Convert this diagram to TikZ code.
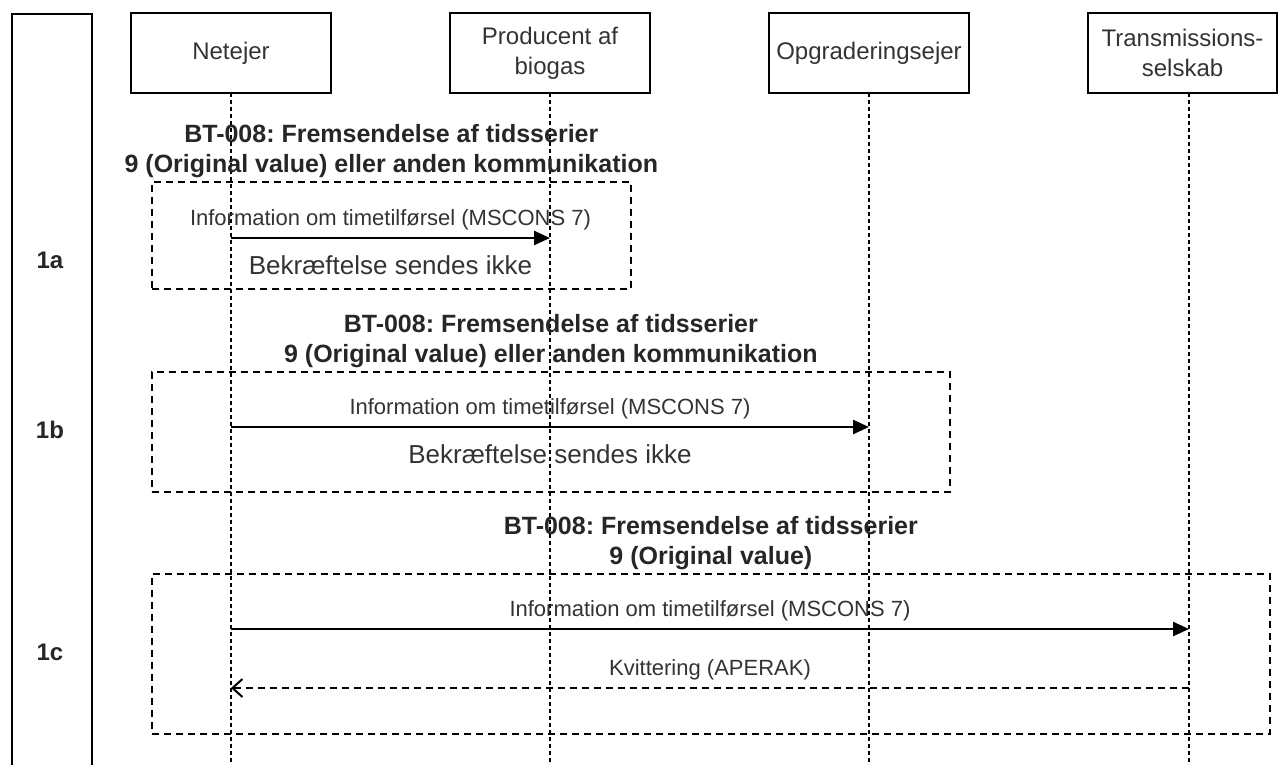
\documentclass[tikz,border=0pt]{standalone}
\usepackage{fontspec}
\setmainfont{Liberation Sans}
\frenchspacing
\usetikzlibrary{positioning, arrows.meta}

\begin{document}
\begin{tikzpicture}[
        x=1pt, y=-1pt,
        node distance=119pt,
        actor/.style={draw, line width=2pt, outer sep=0pt, minimum width=200pt, minimum height=80pt, inner sep=0pt, align=center, text=black!80, font=\fontsize{24}{30}\selectfont},
        lifeline/.style={draw, line width=1.6pt, dash pattern=on 4pt off 3pt},
        group/.style={draw, line width=1.7pt, dash pattern=on 7pt off 5pt, anchor=north west},
        grptitle/.style={above=3pt, inner sep=0pt, align=center, text=black!85, font=\bfseries\fontsize{25}{30}\selectfont},
        phase/.style={text=black!85, font=\bfseries\fontsize{24}{28}\selectfont},
        msg/.style={draw, line width=2.4pt, -{Triangle[length=16pt, width=14pt]}},
        reply/.style={draw, line width=1.8pt, dash pattern=on 7pt off 5pt, -{Straight Barb[length=10pt, width=18pt, line width=2pt]}},
        lbl/.style={above=7pt, inner sep=0pt, text=black!80, font=\fontsize{22}{26}\selectfont},
        note/.style={below=16pt, inner sep=0pt, text=black!80, font=\fontsize{26}{30}\selectfont}
    ]

    \useasboundingbox (0,0) rectangle (1279,765);
    \clip (0,0) rectangle (1279,765);

    % Aktører
    \node (netejer) [actor] at (231,53) {Netejer};
    \node (producent) [actor, right=of netejer] {Producent af\\biogas};
    \node (opgradering) [actor, right=of producent] {Opgraderingsejer};
    \node (transmission) [actor, right=of opgradering, minimum width=189pt] {Transmissions-\\selskab};

    \node (faser) [draw, line width=2pt, minimum width=80pt, minimum height=800pt, anchor=north west] at (11,13) {};
    \node (f1a) [phase] at (50,260) {1a};
    \node (f1b) [phase] at (50,430) {1b};
    \node (f1c) [phase] at (50,652) {1c};

    % Livslinjer
    \coordinate (bund) at (0,770);
    \coordinate (tline) at ([xshift=6.5pt]transmission.south);
    \foreach \a in {netejer, producent, opgradering}
        \draw[lifeline] (\a.south) -- (\a.south |- bund);
    \draw[lifeline] (tline) -- (tline |- bund);

    % Grupper
    \node (g1a) [group, minimum width=479pt, minimum height=107pt] at (151,181) {};
    \node (g1b) [group, minimum width=798pt, minimum height=120pt] at (151,371) {};
    \node (g1c) [group, minimum width=1118pt, minimum height=160pt] at (151,573) {};

    \node (t1a) [grptitle] at (g1a.north) {BT-008: Fremsendelse af tidsserier\\9 (Original value) eller anden kommunikation};
    \node (t1b) [grptitle] at (g1b.north) {BT-008: Fremsendelse af tidsserier\\9 (Original value) eller anden kommunikation};
    \node (t1c) [grptitle] at (g1c.north) {BT-008: Fremsendelse af tidsserier\\9 (Original value)};

    % Beskeder
    \coordinate (y1a) at (0,238);
    \coordinate (y1b) at (0,427);
    \coordinate (y1c) at (0,629);
    \coordinate (y1c2) at (0,688);

    \draw[msg] (netejer |- y1a) -- node[lbl] {Information om timetilførsel (MSCONS 7)} node[note] {Bekræftelse sendes ikke} (producent |- y1a);
    \draw[msg] (netejer |- y1b) -- node[lbl] {Information om timetilførsel (MSCONS 7)} node[note] {Bekræftelse sendes ikke} (opgradering |- y1b);
    \draw[msg] (netejer |- y1c) -- node[lbl] {Information om timetilførsel (MSCONS 7)} (tline |- y1c);
    \draw[reply] (tline |- y1c2) -- node[lbl] {Kvittering (APERAK)} (netejer |- y1c2);

\end{tikzpicture}
\end{document}
